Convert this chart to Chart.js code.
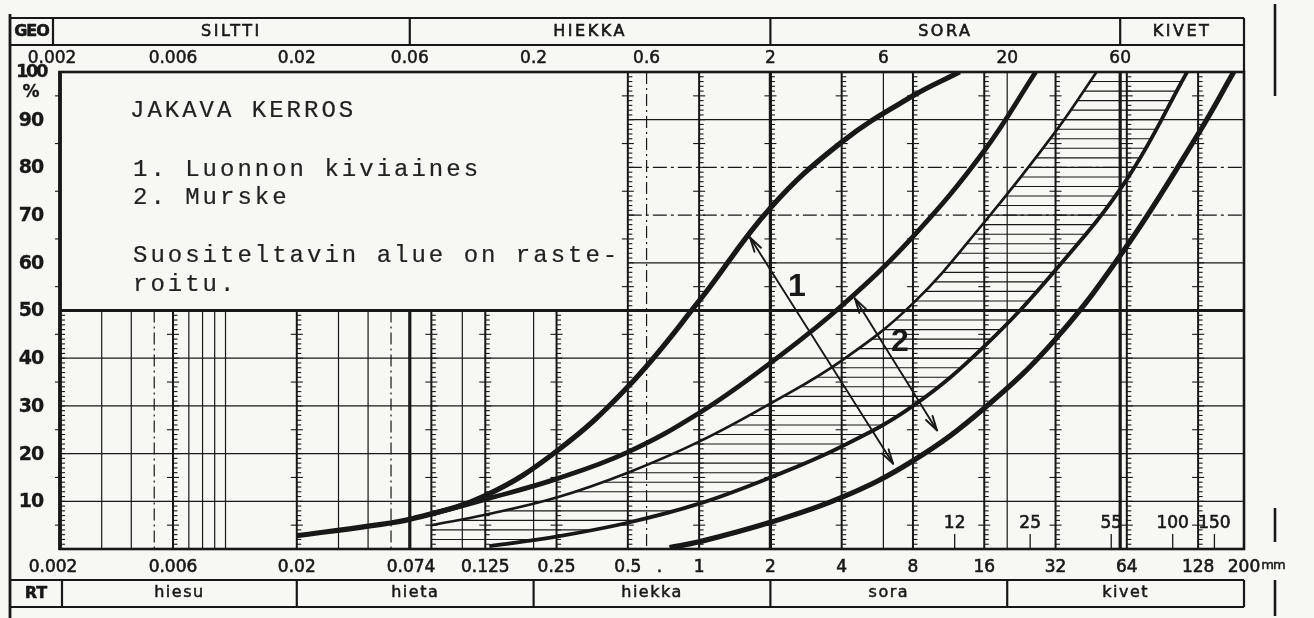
<!DOCTYPE html>
<html>
<head>
<meta charset="utf-8">
<script src="https://cdn.jsdelivr.net/npm/chart.js@4.4.1/dist/chart.umd.min.js"></script>
<style>
html,body{margin:0;padding:0;background:#f7f7f4;overflow:hidden;}
#wrap{position:relative;width:1314px;height:618px;}
canvas{display:block;}
</style>
</head>
<body>
<div id="wrap"><canvas id="chart" width="1314" height="618"></canvas></div>
<script>
// ---------- DATA (grain size in mm, passing %) ----------
const sizesA = [0.02, 0.04, 0.062, 0.125, 0.25, 0.5, 1, 2, 4, 8, 12.6];
const passA  = [2.8, 4.8, 6.4, 11.2, 20.5, 34.0, 52.0, 71.5, 85.3, 95.0, 100];
const sizesB = [0.074, 0.125, 0.25, 0.5, 1, 2, 4, 8, 16, 26.4];
const passB  = [7.3, 10.4, 14.7, 20.3, 28.5, 39.0, 51.0, 65.5, 83.5, 100];
const sizesC = [0.074, 0.125, 0.25, 0.5, 1, 2, 4, 8, 16, 32, 47.7];
const passC  = [5.0, 7.2, 10.8, 16.0, 22.5, 30.5, 39.5, 51.5, 68.5, 87.5, 100];
const sizesD = [0.13, 0.25, 0.5, 1, 2, 4, 8, 16, 32, 64, 115];
const passD  = [0.6, 2.6, 5.5, 9.5, 15.0, 21.5, 30.0, 42.5, 58.5, 77.5, 100];
const sizesE = [0.75, 1, 2, 4, 8, 16, 32, 64, 128, 181];
const passE  = [0.3, 1.5, 5.6, 10.8, 18.5, 29.5, 44.0, 63.5, 87.0, 100];

// axis / sheet texts and values
const topLabels      = ['0.002','0.006','0.02','0.06','0.2','0.6','2','6','20','60'];
const topLabelValues = [0.002, 0.006, 0.02, 0.06, 0.2, 0.6, 2, 6, 20, 60];
const bottomLabels      = ['0.002','0.006','0.02','0.074','0.125','0.25','0.5','.','1','2','4','8','16','32','64','128','200'];
const bottomLabelValues = [0.002, 0.006, 0.02, 0.074, 0.125, 0.25, 0.5, 0.68, 1, 2, 4, 8, 16, 32, 64, 128, 200];
const yLabelValues = [90, 80, 70, 60, 50, 40, 30, 20, 10];
const geoClasses = ['SILTTI','HIEKKA','SORA','KIVET'];
const geoBounds  = [0.002, 0.06, 2, 60, 200];
const rtClasses  = ['hiesu','hieta','hiekka','sora','kivet'];
const rtBounds   = [0.002, 0.02, 0.2, 2, 20, 200];
const innerScaleLabels = ['12','25','55','100','150'];
const innerScaleValues = [12, 25, 55, 100, 150];
const sieveLines    = [0.006, 0.02, 0.074, 0.125, 0.25, 0.5, 1, 2, 4, 8, 16, 32, 64, 128];
const plainLines    = [0.003, 0.004, 0.007, 0.008, 0.009, 0.01, 0.03, 0.04, 0.1, 0.2, 6, 20];
const dashDotLines  = [0.005, 0.05, 0.6];
const boundaryLines = [0.06, 2, 60];
const gridSolidPct   = [10, 20, 30, 40, 60, 90];
const gridDashDotPct = [70, 80];
const noteBoxEdge = 0.5;   // mm: the text box covers sizes below this, above 50 %
const hatchStepPct = 2;
const noteLines = ['JAKAVA KERROS', '1. Luonnon kiviaines', '2. Murske', 'Suositeltavin alue on raste-', 'roitu.'];
const arrow1 = [[1.64, 65.3], [6.59, 17.9]];
const arrow2 = [[4.55, 52.5], [10.1, 24.9]];
const arrowLabels = ['1', '2'];
const arrowLabelPos = [[2.59, 54.8], [7.05, 43.4]];

// ---------- DRAWING ----------
const INK = '#181818';
const PAPER = '#f7f7f4';
const LABEL_FONT = '"DejaVu Sans", sans-serif';

function seg(ctx, x1, y1, x2, y2) { ctx.beginPath(); ctx.moveTo(x1, y1); ctx.lineTo(x2, y2); ctx.stroke(); }
function txt(ctx, s, x, y, font, align, spacing, heavy) {
  ctx.font = font; ctx.letterSpacing = spacing || '0px';
  ctx.textAlign = align || 'center'; ctx.textBaseline = 'middle';
  ctx.fillText(s, x, y);
  if (heavy) { ctx.lineWidth = heavy; ctx.strokeStyle = ctx.fillStyle; ctx.strokeText(s, x, y); }
}
function mapper(chart) {
  const xs = chart.scales.x, ys = chart.scales.y;
  return { X: v => xs.getPixelForValue(v), Y: p => ys.getPixelForValue(p), a: chart.chartArea };
}

function drawGrid(chart) {
  const ctx = chart.ctx; const { X, Y, a } = mapper(chart);
  const boxRight = X(noteBoxEdge);
  ctx.save(); ctx.strokeStyle = INK; ctx.lineCap = 'butt';
  ctx.lineWidth = 1.3;
  for (const p of gridSolidPct) seg(ctx, p > 50 ? boxRight : a.left, Y(p), a.right, Y(p));
  ctx.setLineDash([14, 4, 3, 4]); ctx.lineWidth = 1.2;
  for (const p of gridDashDotPct) seg(ctx, boxRight, Y(p), a.right, Y(p));
  ctx.setLineDash([]);
  const topFor = v => v < noteBoxEdge ? Y(50) : a.top;
  ctx.lineWidth = 1.2;
  for (const v of plainLines) seg(ctx, X(v), topFor(v), X(v), a.bottom);
  ctx.setLineDash([12, 4, 2, 4]);
  for (const v of dashDotLines) seg(ctx, X(v), topFor(v), X(v), a.bottom);
  ctx.setLineDash([]);
  for (const v of sieveLines) {
    const x = X(v);
    ctx.lineWidth = 2; seg(ctx, x, topFor(v), x, a.bottom);
    ctx.lineWidth = 1.1;
    for (let p = 1; p < 100; p++) {
      if (v < noteBoxEdge && p > 50) continue;
      const y = Y(p);
      seg(ctx, x, y, x + (p % 5 === 0 ? 6 : 4.5), y);
      if (p % 10 === 5) seg(ctx, x - 6, y, x, y);
    }
  }
  ctx.lineWidth = 3.2;
  for (const v of boundaryLines) seg(ctx, X(v), topFor(v), X(v), a.bottom);
  ctx.lineWidth = 2.8; seg(ctx, a.left, Y(50), a.right, Y(50));
  ctx.lineWidth = 1.1;
  for (let p = 1; p < 100; p++) {
    const y = Y(p);
    if (p < 50) seg(ctx, a.left, y, a.left + 5, y);
    if (p % 10 === 5) seg(ctx, a.left - 5, y, a.left, y);
  }
  ctx.lineWidth = 1.3;
  for (const v of innerScaleValues) seg(ctx, X(v), a.bottom - 15, X(v), a.bottom);
  ctx.restore();
}

function drawHatch(chart) {
  const ctx = chart.ctx; const { X, Y, a } = mapper(chart);
  const lc = chart.getDatasetMeta(2).dataset, ld = chart.getDatasetMeta(3).dataset;
  lc.updateControlPoints(a, 'x'); ld.updateControlPoints(a, 'x');
  ctx.save();
  ctx.beginPath();
  lc.pathSegment(ctx, { start: 0, end: lc.points.length - 1, loop: false });
  ld.pathSegment(ctx, { start: 0, end: ld.points.length - 1, loop: false }, { move: false, reverse: true });
  ctx.lineTo(X(sizesD[0]), Y(0));
  ctx.lineTo(X(sizesC[0]), Y(0));
  ctx.closePath();
  ctx.clip();
  ctx.strokeStyle = INK; ctx.lineWidth = 1.1;
  for (let p = hatchStepPct; p < 100; p += hatchStepPct) seg(ctx, a.left, Y(p), a.right, Y(p));
  ctx.restore();
}

function drawFrame(chart) {
  const ctx = chart.ctx; const { X, Y, a } = mapper(chart);
  ctx.save(); ctx.strokeStyle = INK; ctx.fillStyle = INK;
  ctx.lineWidth = 2.6;
  ctx.strokeRect(a.left, a.top, a.right - a.left, a.bottom - a.top);
  ctx.lineWidth = 3.8; seg(ctx, a.left, a.top - 1, a.left, a.bottom + 1);
  const L = 10;
  ctx.lineWidth = 2.8; seg(ctx, L, 14, L, 618);
  ctx.lineWidth = 2.6;
  seg(ctx, 1275, 4, 1275, 96); seg(ctx, 1275, 508, 1275, 542); seg(ctx, 1275, 580, 1275, 616);
  const t1 = 18, t2 = 45;
  ctx.lineWidth = 2.2;
  seg(ctx, L, t1, a.right, t1); seg(ctx, L, t2, a.right, t2);
  seg(ctx, a.right, t1, a.right, a.top);
  seg(ctx, 53, t1, 53, t2);
  for (let i = 1; i < geoBounds.length - 1; i++) seg(ctx, X(geoBounds[i]), t1, X(geoBounds[i]), t2);
  const b1 = 580, b2 = 607;
  seg(ctx, L, b1, a.right, b1); seg(ctx, L, b2, a.right, b2);
  seg(ctx, 62, b1, 62, b2); seg(ctx, a.right, b1, a.right, b2);
  for (let i = 1; i < rtBounds.length - 1; i++) seg(ctx, X(rtBounds[i]), b1, X(rtBounds[i]), b2);
  ctx.restore();
}

function drawTexts(chart) {
  const ctx = chart.ctx; const { X, Y, a } = mapper(chart);
  ctx.save(); ctx.fillStyle = INK;
  txt(ctx, 'GEO', 31.5, 32, 'bold 16px ' + LABEL_FONT, 'center', '-1px', 0.6);
  for (let i = 0; i < geoClasses.length; i++) {
    const x0 = i === 0 ? 53 : X(geoBounds[i]); const x1 = X(geoBounds[i + 1]);
    txt(ctx, geoClasses[i], (x0 + x1) / 2, 32, '16px ' + LABEL_FONT, 'center', '2.5px', 0.6);
  }
  for (let i = 0; i < topLabels.length; i++) {
    let x = X(topLabelValues[i]); if (i === 0) x -= 8;
    txt(ctx, topLabels[i], x, 59, '17px ' + LABEL_FONT, 'center', '0px', 0.5);
  }
  for (const p of yLabelValues) txt(ctx, String(p), 31, Y(p) + 1, 'bold 19px ' + LABEL_FONT, 'center', '-1px', 0.3);
  txt(ctx, '100', 31, Y(100), 'bold 18px ' + LABEL_FONT, 'center', '-2.5px', 0.3);
  txt(ctx, '%', 31, Y(95.6), 'bold 17px ' + LABEL_FONT, 'center', '0px', 0.3);
  for (let i = 0; i < bottomLabels.length; i++) {
    const v = bottomLabelValues[i]; let x = X(v); let align = 'center';
    if (i === 0) x -= 7;
    if (v === 0.074) { x += 4; align = 'right'; }
    txt(ctx, bottomLabels[i], x, 568, '17px ' + LABEL_FONT, align, '0px', 0.6);
    if (v === 200) {
      ctx.font = '17px ' + LABEL_FONT; ctx.letterSpacing = '0px'; const w = ctx.measureText('200').width;
      txt(ctx, 'mm', x + w / 2 + 1, 566, '13px ' + LABEL_FONT, 'left', '-1px', 0.5);
    }
  }
  txt(ctx, 'RT', 36, 594, 'bold 16px ' + LABEL_FONT, 'center', '0px', 0.5);
  for (let i = 0; i < rtClasses.length; i++) {
    const x0 = i === 0 ? 62 : X(rtBounds[i]); const x1 = X(rtBounds[i + 1]);
    txt(ctx, rtClasses[i], (x0 + x1) / 2, 593, '16px ' + LABEL_FONT, 'center', '1.5px', 0.5);
  }
  for (let i = 0; i < innerScaleLabels.length; i++)
    txt(ctx, innerScaleLabels[i], X(innerScaleValues[i]), a.bottom - 25, '17px ' + LABEL_FONT, 'center', '0px', 0.6);
  ctx.fillStyle = '#222222';
  const noteY = [111, 170, 198, 256, 285];
  for (let i = 0; i < noteLines.length; i++)
    txt(ctx, noteLines[i], a.left + (i === 0 ? 70 : 73), noteY[i], '24px "Liberation Mono"', 'left', '3px', 0.2);
  ctx.fillStyle = INK;
  for (let i = 0; i < arrowLabels.length; i++)
    txt(ctx, arrowLabels[i], X(arrowLabelPos[i][0]), Y(arrowLabelPos[i][1]), 'bold 32px "Liberation Sans"', 'center', '0px');
  ctx.restore();
}

function drawArrows(chart) {
  const ctx = chart.ctx; const { X, Y } = mapper(chart);
  ctx.save(); ctx.strokeStyle = INK; ctx.lineWidth = 1.9; ctx.lineCap = 'round';
  const head = (x, y, ang) => {
    const L = 15, s = 0.26;
    seg(ctx, x, y, x - L * Math.cos(ang - s), y - L * Math.sin(ang - s));
    seg(ctx, x, y, x - L * Math.cos(ang + s), y - L * Math.sin(ang + s));
  };
  for (const arr of [arrow1, arrow2]) {
    const x1 = X(arr[0][0]), y1 = Y(arr[0][1]), x2 = X(arr[1][0]), y2 = Y(arr[1][1]);
    seg(ctx, x1, y1, x2, y2);
    const ang = Math.atan2(y2 - y1, x2 - x1);
    head(x2, y2, ang); head(x1, y1, ang + Math.PI);
  }
  ctx.restore();
}

const sheetPlugin = {
  id: 'sheet',
  beforeDraw(chart) { const c = chart.ctx; c.save(); c.fillStyle = PAPER; c.fillRect(0, 0, chart.width, chart.height); c.restore(); },
  beforeDatasetsDraw(chart) { drawGrid(chart); drawHatch(chart); },
  afterDatasetsDraw(chart) { drawFrame(chart); drawTexts(chart); drawArrows(chart); }
};

function curve(sizes, pass, w) {
  return {
    data: sizes.map((s, i) => ({ x: s, y: pass[i] })),
    borderColor: INK, borderWidth: w, pointRadius: 0, fill: false,
    tension: 0.4, borderCapStyle: 'butt', borderJoinStyle: 'round'
  };
}

new Chart(document.getElementById('chart'), {
  type: 'line',
  data: { datasets: [
    curve(sizesA, passA, 5.2),
    curve(sizesB, passB, 4.8),
    curve(sizesC, passC, 2.6),
    curve(sizesD, passD, 3.8),
    curve(sizesE, passE, 5.2)
  ] },
  options: {
    responsive: false, animation: false, devicePixelRatio: 1, events: [],
    layout: { padding: { left: 60, right: 70, top: 72, bottom: 69 } },
    scales: {
      x: { type: 'logarithmic', min: 0.002, max: 200, display: false },
      y: { type: 'linear', min: 0, max: 100, display: false }
    },
    plugins: { legend: { display: false }, tooltip: { enabled: false } }
  },
  plugins: [sheetPlugin]
});
</script>
</body>
</html>
